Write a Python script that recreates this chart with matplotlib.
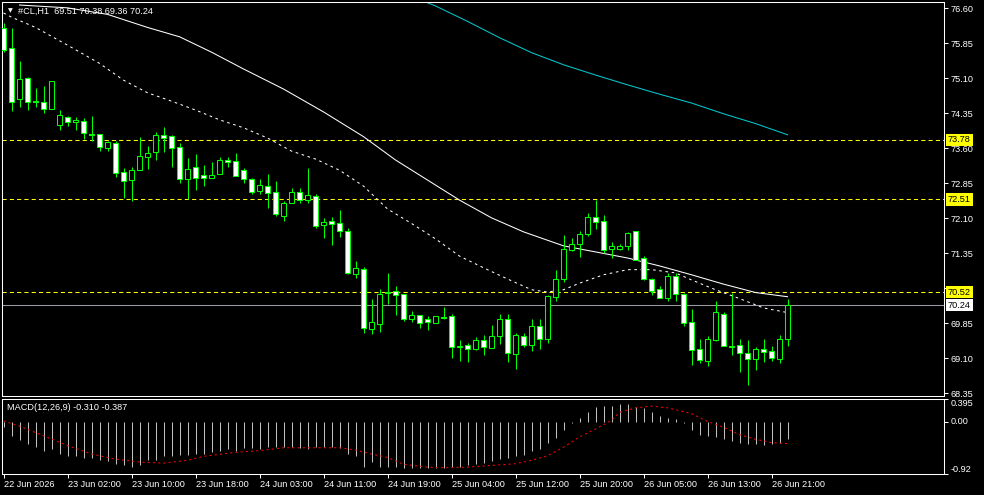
import matplotlib.pyplot as plt
import matplotlib.transforms as mtransforms
import numpy as np

plt.rcParams['font.family'] = ['Liberation Sans', 'DejaVu Sans']
plt.rcParams['font.size'] = 6.6

# hourly candles
opens = [76.17, 75.74, 74.65, 75.10, 74.62, 74.59, 74.45, 74.11, 74.28, 74.17,
         74.18, 73.91, 73.90, 73.61, 73.71, 73.09, 72.93, 73.14, 73.42, 73.53,
         73.88, 73.86, 73.62, 72.94, 73.19, 73.03, 72.96, 73.04, 73.36, 73.32,
         73.14, 72.95, 72.69, 72.79, 72.66, 72.16, 72.42, 72.67, 72.49, 72.57,
         71.95, 72.04, 72.00, 71.83, 70.91, 71.01, 69.73, 69.84, 70.52, 70.54,
         70.47, 69.94, 70.02, 69.94, 69.85, 69.99, 70.00, 69.35, 69.39, 69.31,
         69.49, 69.33, 69.57, 69.94, 69.19, 69.58, 69.39, 69.79, 69.52, 70.42,
         70.81, 71.43, 71.54, 71.77, 72.12, 72.04, 71.44, 71.45, 71.51, 71.82,
         71.24, 70.79, 70.58, 70.39, 70.86, 70.47, 69.87, 69.29, 69.05, 69.49,
         70.06, 69.37, 69.39, 69.21, 69.08, 69.31, 69.25, 69.09, 69.51]
highs = [76.28, 76.17, 75.47, 75.13, 74.89, 74.94, 75.05, 74.42, 74.29, 74.27,
         74.24, 74.29, 73.90, 73.76, 73.76, 73.17, 73.20, 73.85, 73.65, 73.95,
         74.06, 73.89, 73.71, 73.39, 73.48, 73.24, 73.31, 73.41, 73.41, 73.51,
         73.18, 72.96, 72.94, 73.05, 72.90, 72.48, 72.76, 72.76, 73.18, 72.62,
         72.11, 72.13, 72.28, 71.89, 71.19, 71.06, 70.37, 70.59, 70.92, 70.65,
         70.47, 70.11, 70.02, 70.01, 70.00, 70.20, 70.06, 69.49, 69.43, 69.56,
         69.60, 69.81, 70.05, 70.05, 69.64, 69.64, 69.94, 69.94, 70.46, 70.99,
         71.74, 71.68, 71.82, 72.21, 72.49, 72.17, 71.59, 71.55, 71.81, 71.82,
         71.29, 70.82, 70.65, 70.92, 70.92, 70.49, 70.16, 69.51, 69.58, 70.33,
         70.10, 70.51, 69.51, 69.49, 69.35, 69.51, 69.36, 69.60, 70.38]
lows = [75.66, 74.41, 74.49, 74.42, 74.48, 74.36, 74.44, 73.99, 74.08, 73.99,
        73.79, 73.76, 73.55, 73.55, 72.99, 72.53, 72.48, 73.14, 73.16, 73.35,
        73.53, 73.21, 72.86, 72.51, 72.71, 72.80, 72.96, 73.04, 73.21, 73.00,
        72.86, 72.62, 72.62, 72.33, 72.16, 72.05, 72.42, 72.42, 72.43, 71.90,
        71.68, 71.53, 71.71, 70.91, 70.83, 69.65, 69.63, 69.67, 70.27, 70.03,
        69.91, 69.88, 69.76, 69.71, 69.85, 69.94, 69.11, 69.05, 69.03, 69.27,
        69.18, 69.33, 69.40, 69.03, 68.88, 69.35, 69.26, 69.31, 69.43, 70.33,
        70.74, 71.41, 71.28, 71.73, 71.88, 71.36, 71.26, 71.42, 71.42, 71.21,
        70.78, 70.46, 70.39, 70.33, 70.33, 69.80, 68.96, 69.01, 68.94, 69.48,
        69.36, 69.18, 68.81, 68.53, 68.86, 69.03, 69.05, 69.01, 69.36]
closes = [75.71, 74.60, 75.08, 74.59, 74.60, 74.44, 75.04, 74.31, 74.16, 74.20,
          73.92, 73.89, 73.62, 73.73, 73.08, 72.91, 73.13, 73.43, 73.51, 73.88,
          73.83, 73.60, 72.95, 73.15, 72.97, 72.96, 73.03, 73.35, 73.30, 73.01,
          72.94, 72.67, 72.81, 72.65, 72.19, 72.42, 72.66, 72.49, 72.59, 71.94,
          72.02, 71.97, 71.82, 70.93, 71.04, 69.76, 69.87, 70.47, 70.50, 70.46,
          69.94, 70.02, 69.85, 69.87, 70.00, 69.97, 69.34, 69.36, 69.31, 69.49,
          69.34, 69.58, 69.94, 69.21, 69.59, 69.39, 69.79, 69.52, 70.43, 70.81,
          71.44, 71.54, 71.76, 72.12, 72.03, 71.43, 71.50, 71.51, 71.79, 71.21,
          70.81, 70.55, 70.39, 70.86, 70.48, 69.86, 69.27, 69.06, 69.51, 70.09,
          69.36, 69.35, 69.21, 69.08, 69.29, 69.24, 69.11, 69.51, 70.24]

# moving averages, sampled by bar index
ma_slow_bars = [2, 8, 13, 18, 22, 26, 30, 35, 40, 45, 49, 53, 57, 61, 65, 70, 74, 78, 82, 86, 90, 94, 98]
ma_slow_vals = [76.67, 76.61, 76.47, 76.19, 75.99, 75.66, 75.30, 74.87, 74.38, 73.85, 73.35, 72.92,
                72.49, 72.11, 71.81, 71.51, 71.38, 71.25, 71.08, 70.89, 70.69, 70.51, 70.42]
ma_fast_bars = [0, 1, 4, 8, 12, 15, 18, 21, 24, 27, 30, 33, 36, 39, 42, 45, 48, 51, 54, 57, 60,
                63, 66, 68, 70, 72, 75, 78, 81, 84, 86, 89, 92, 95, 98]
ma_fast_vals = [76.50, 76.41, 76.19, 75.81, 75.42, 75.06, 74.79, 74.61, 74.42, 74.21, 74.04, 73.82,
                73.54, 73.37, 73.13, 72.79, 72.30, 71.99, 71.66, 71.29, 71.04, 70.80, 70.57, 70.52,
                70.57, 70.71, 70.89, 71.00, 71.00, 70.93, 70.78, 70.57, 70.38, 70.18, 70.08]
ma_long_bars = [53, 54, 58, 62, 66, 70, 74, 78, 82, 86, 90, 94, 98]
ma_long_vals = [76.72, 76.65, 76.32, 75.97, 75.65, 75.39, 75.17, 74.96, 74.76, 74.57, 74.34, 74.13, 73.89]

# MACD main (histogram) and signal
macd_hist = [-0.10, -0.25, -0.32, -0.39, -0.45, -0.51, -0.49, -0.57, -0.60, -0.60,
             -0.64, -0.64, -0.67, -0.70, -0.74, -0.76, -0.79, -0.76, -0.68, -0.67,
             -0.60, -0.60, -0.59, -0.59, -0.57, -0.57, -0.54, -0.51, -0.48, -0.51,
             -0.46, -0.46, -0.48, -0.45, -0.45, -0.45, -0.45, -0.46, -0.48, -0.45,
             -0.45, -0.45, -0.47, -0.57, -0.60, -0.80, -0.71, -0.80, -0.80, -0.79,
             -0.82, -0.82, -0.81, -0.81, -0.82, -0.81, -0.80, -0.79, -0.77, -0.75,
             -0.72, -0.70, -0.66, -0.64, -0.61, -0.59, -0.51, -0.49, -0.38, -0.29,
             -0.14, -0.02, 0.07, 0.17, 0.26, 0.28, 0.28, 0.30, 0.31, 0.26,
             0.23, 0.16, 0.10, 0.07, 0.04, -0.03, -0.14, -0.23, -0.26, -0.28,
             -0.31, -0.34, -0.38, -0.39, -0.39, -0.41, -0.39, -0.37, -0.31]
sig_bars = [0, 2, 5, 8, 11, 14, 17, 20, 23, 25, 29, 32, 35, 39, 42, 44, 46, 48, 50, 53, 55, 58,
            61, 64, 66, 68, 70, 72, 74, 76, 77, 79, 81, 83, 86, 88, 90, 92, 94, 96, 98]
sig_vals = [0.01, -0.08, -0.25, -0.42, -0.57, -0.66, -0.71, -0.73, -0.68, -0.61, -0.54, -0.51,
            -0.46, -0.46, -0.46, -0.50, -0.57, -0.63, -0.75, -0.80, -0.81, -0.80, -0.77, -0.74,
            -0.68, -0.60, -0.45, -0.27, -0.13, 0.02, 0.16, 0.24, 0.27, 0.24, 0.14, 0.00, -0.10,
            -0.23, -0.31, -0.37, -0.387]

time_ticks = list(range(0, 99, 8))
time_labels = ['22 Jun 2026', '23 Jun 02:00', '23 Jun 10:00', '23 Jun 18:00', '24 Jun 03:00',
               '24 Jun 11:00', '24 Jun 19:00', '25 Jun 04:00', '25 Jun 12:00', '25 Jun 20:00',
               '26 Jun 05:00', '26 Jun 13:00', '26 Jun 21:00']
price_ticks = [76.60, 75.85, 75.10, 74.35, 73.60, 72.85, 72.10, 71.35, 70.60, 69.85, 69.10, 68.35]
levels = [73.78, 72.51, 70.52]
last_price = 70.24

W, H = 984, 495
fig = plt.figure(figsize=(W / 100, H / 100), dpi=100, facecolor='black')
ax = fig.add_axes([2 / W, 1 - 396 / H, 942 / W, 393.7 / H], facecolor='black')
ax2 = fig.add_axes([2 / W, 1 - 474 / H, 942 / W, 75 / H], facecolor='black')

x = np.arange(len(opens))
o, hi, lo, c = (np.array(v) for v in (opens, highs, lows, closes))
bull = c >= o

ax.vlines(x, lo, hi, color='#00ff00', lw=0.75, zorder=3)
ax.bar(x, np.maximum(np.abs(c - o), 0.004), bottom=np.minimum(o, c), width=0.6,
       color=np.where(bull, 'black', 'white'), edgecolor='#00ff00', linewidth=0.75, zorder=4)

ax.plot(ma_slow_bars, ma_slow_vals, color='white', lw=0.75, zorder=2)
ax.plot(ma_fast_bars, ma_fast_vals, color='white', lw=0.75, dashes=(2.5, 3.5), zorder=2)
ax.plot(ma_long_bars, ma_long_vals, color='#00c8d0', lw=0.75, zorder=2)

for lv in levels:
    ax.axhline(lv, color='#ffff00', lw=0.75, dashes=(4, 3), zorder=1)
ax.axhline(last_price, color='#9a9aa2', lw=0.75, zorder=1)

trans = mtransforms.blended_transform_factory(ax.transAxes, ax.transData)
for lv in levels:
    ax.text(1 + 4 / 942, lv, f'{lv:.2f}', transform=trans, ha='left', va='center', color='black',
            bbox=dict(boxstyle='square,pad=0.2', fc='#ffff00', ec='none'), clip_on=False, zorder=6)
ax.text(1 + 4 / 942, last_price, f'{last_price:.2f}', transform=trans, ha='left', va='center',
        color='black', bbox=dict(boxstyle='square,pad=0.2', fc='white', ec='none'),
        clip_on=False, zorder=6)

ax.set_xlim(-0.19, -0.19 + 942 / 8)
ax.set_ylim(76.60 - (396 - 8.3) / 46.67, 76.60 + 6 / 46.67)
ax.yaxis.tick_right()
ax.set_yticks(price_ticks)
ax.set_yticklabels(['' if t == 70.60 else f'{t:.2f}' for t in price_ticks])
ax.set_xticks([])
ax.tick_params(axis='y', colors='white', length=3, width=0.75, pad=1.5)

ax.text(5.5 / 942, 0.978, '▼', transform=ax.transAxes, color='white', fontsize=4.5,
        va='center', family='DejaVu Sans')
ax.text(16 / 942, 0.978, '#CL,H1  69.51 70.38 69.36 70.24', transform=ax.transAxes,
        color='white', va='center')

# MACD window
ax2.vlines(x, 0, macd_hist, color='#c0c0c0', lw=0.75)
ax2.plot(sig_bars, sig_vals, color='#ff0000', lw=0.75, dashes=(2, 3))
ax2.set_xlim(ax.get_xlim())
ax2.set_ylim(-0.92, 0.395)
ax2.yaxis.tick_right()
ax2.set_yticks([0.395, 0.0, -0.92])
ax2.set_yticklabels(['0.395', '0.00', '-0.92'])
for lab, va in zip(ax2.get_yticklabels(), ['top', 'center', 'bottom']):
    lab.set_va(va)
ax2.set_xticks(time_ticks)
ax2.set_xticklabels(time_labels, ha='left')
ax2.tick_params(colors='white', length=3, width=0.75, pad=1.5)
ax2.text(5 / 942, 0.885, 'MACD(12,26,9) -0.310 -0.387', transform=ax2.transAxes,
         color='white', va='center')

for a in (ax, ax2):
    for s in a.spines.values():
        s.set_color('white')
        s.set_linewidth(0.75)

fig.savefig('out.png', dpi=100, facecolor='black')
